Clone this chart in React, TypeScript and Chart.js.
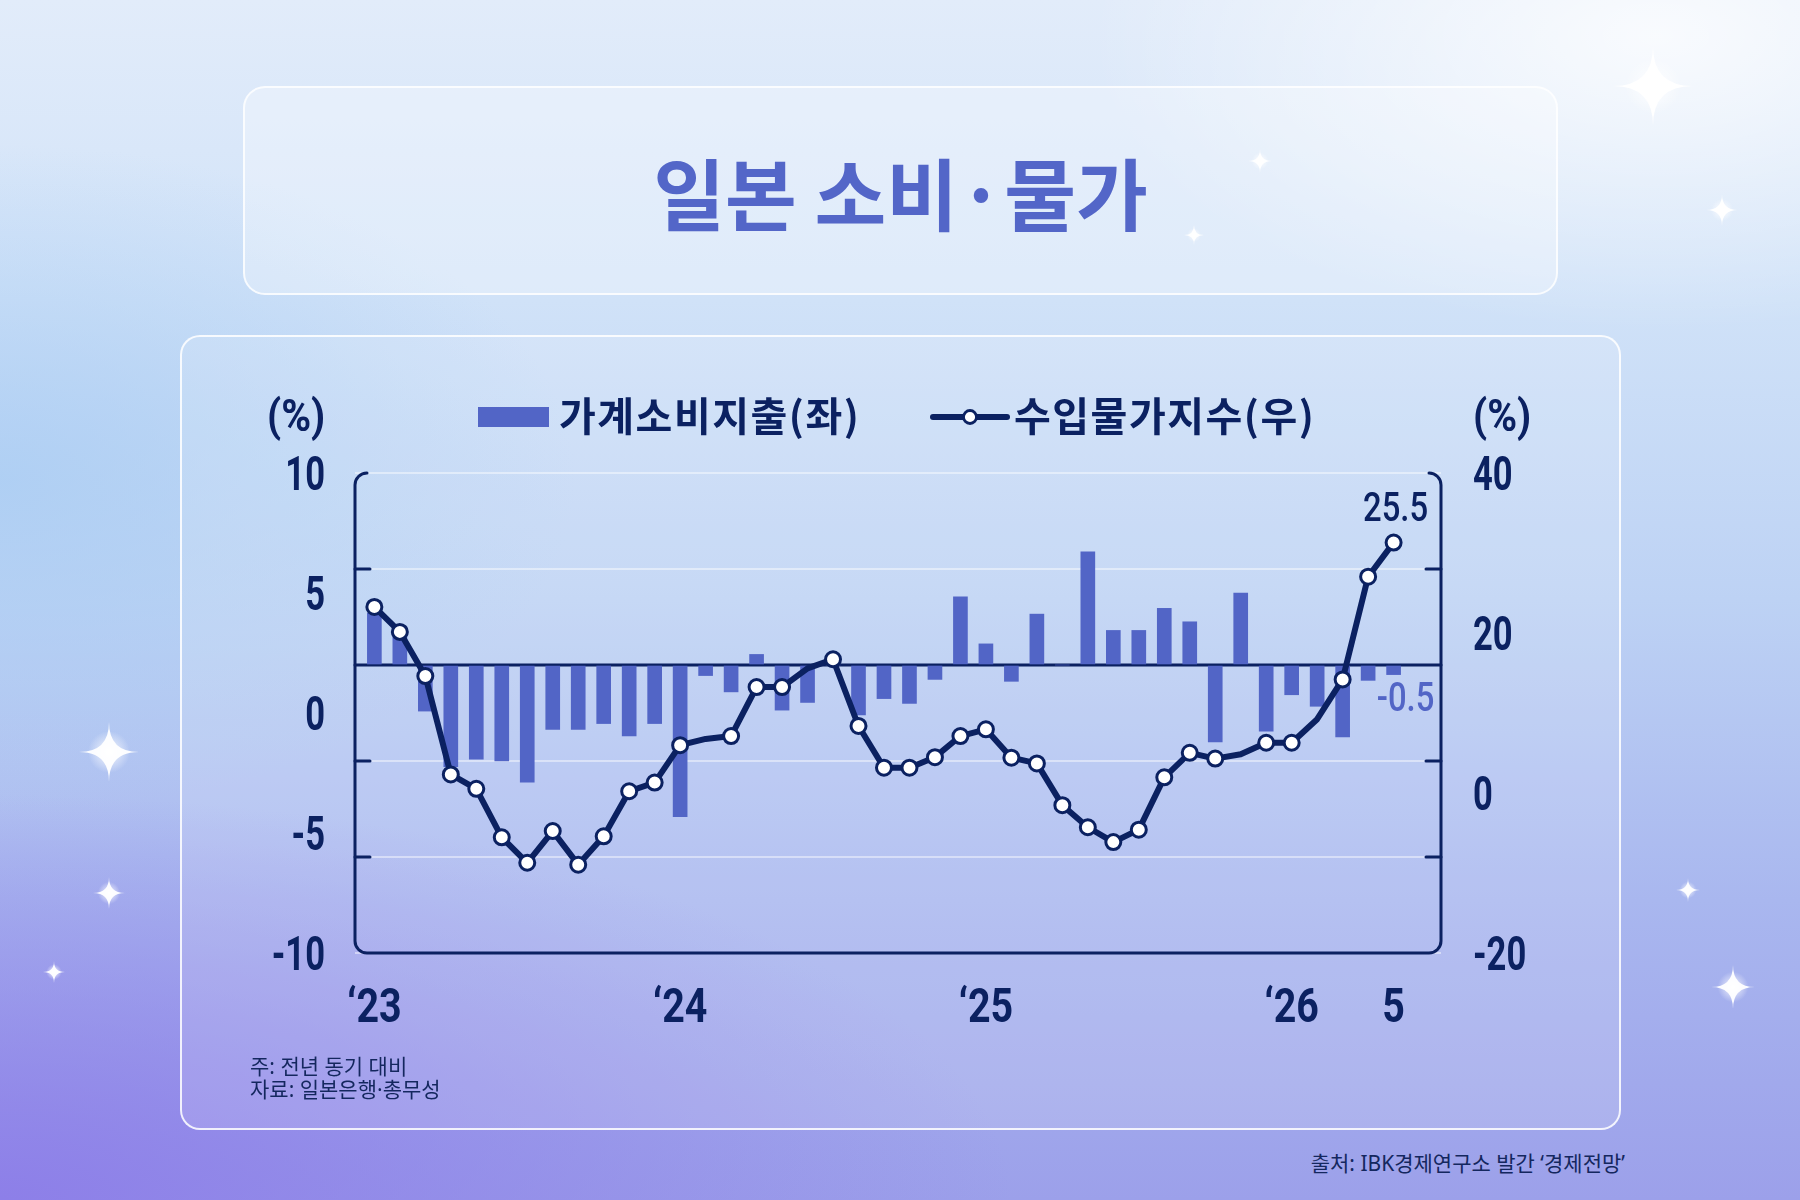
import { useEffect, useRef } from 'react';
import { Chart, registerables } from 'chart.js';

Chart.register(...registerables);

// 가계소비지출 (좌, %), 2023.1 ~ 2026.5
const spending = [
  2.7, 2.0, -2.4, -5.3, -4.9, -5.0, -6.1, -3.35, -3.35, -3.05, -3.7, -3.05,
  -7.9, -0.55, -1.4, 0.55, -2.35, -1.95, 0, -2.6, -1.75, -2.0, -0.75, 3.55,
  1.1, -0.85, 2.65, 0, 5.9, 1.8, 1.8, 2.95, 2.25, -4.0, 3.75, -3.45,
  -1.55, -2.15, -3.75, -0.8, -0.5,
];

// 수입물가지수 (우, %)
const importPrices = [
  12.1, 6.9, -2.3, -22.8, -25.8, -35.9, -41.2, -34.6, -41.6, -35.7, -26.3, -24.5,
  -16.7, -15.4, -14.8, -4.6, -4.6, -0.7, 1.2, -12.7, -21.4, -21.4, -19.2, -14.8,
  -13.4, -19.3, -20.5, -29.2, -33.8, -36.9, -34.3, -23.4, -18.3, -19.5, -18.6, -16.2,
  -16.2, -11.3, -3.0, 18.4, 25.5,
];

// x축 눈금 (월 인덱스 / 표시)
const tickIndex = [0, 12, 24, 36, 40];
const tickLabels = ['\u201823', '\u201824', '\u201825', '\u201826', '5'];

// 마커 없이 꺾이기만 하는 달
const plainPoints = [13, 17, 34, 37];

const NAVY = '#0b2161';
const BAR = '#5265c6';
const NUM_FONT = "Roboto, 'Noto Sans', sans-serif";
const KR_FONT = "'Noto Sans CJK KR', 'Noto Sans', sans-serif";
const NOTE_FONT = "'Noto Sans', 'Noto Sans CJK KR', sans-serif";
const HIDDEN = 'rgba(0,0,0,0)';

// 좁은 숫자 글꼴 흉내: 가로로 눌러서 그림
function narrowText(
  ctx: CanvasRenderingContext2D,
  text: string,
  x: number,
  y: number,
  align: CanvasTextAlign,
  sx: number,
) {
  ctx.save();
  ctx.translate(x, y);
  ctx.scale(sx, 1);
  ctx.textAlign = align;
  ctx.textBaseline = 'alphabetic';
  ctx.fillText(text, 0, 0);
  ctx.restore();
}

function ChartPanel() {
  const canvasRef = useRef<HTMLCanvasElement>(null);

  useEffect(() => {
    if (!canvasRef.current) return;

    const framePlugin = {
      id: 'frame',
      beforeDatasetsDraw(chart: Chart) {
        const { ctx, chartArea } = chart;
        const { left, right, top, bottom } = chartArea;
        const ys = chart.scales.y;
        const r = 12;
        ctx.save();
        ctx.strokeStyle = NAVY;
        ctx.lineWidth = 3;
        ctx.lineCap = 'round';
        ctx.lineJoin = 'round';
        ctx.beginPath();
        ctx.moveTo(left + r, top);
        ctx.arcTo(left, top, left, top + r, r);
        ctx.lineTo(left, bottom - r);
        ctx.arcTo(left, bottom, left + r, bottom, r);
        ctx.lineTo(right - r, bottom);
        ctx.arcTo(right, bottom, right, bottom - r, r);
        ctx.lineTo(right, top + r);
        ctx.arcTo(right, top, right - r, top, r);
        ctx.stroke();

        ys.ticks.forEach((t) => {
          if (t.value === ys.min || t.value === ys.max) return;
          const py = ys.getPixelForValue(t.value);
          ctx.beginPath();
          if (t.value === 0) {
            ctx.moveTo(left, py);
            ctx.lineTo(right, py);
          } else {
            ctx.moveTo(left, py);
            ctx.lineTo(left + 15, py);
            ctx.moveTo(right - 15, py);
            ctx.lineTo(right, py);
          }
          ctx.stroke();
        });
        ctx.restore();
      },
      afterDatasetsDraw(chart: Chart) {
        const { ctx, chartArea } = chart;
        const { x, y, y1, yl, yr } = chart.scales;

        ctx.save();
        ctx.fillStyle = NAVY;
        ctx.font = `bold 48px ${NUM_FONT}`;
        yl.ticks.forEach((t) => {
          narrowText(ctx, String(t.label), chartArea.left - 30, yl.getPixelForValue(t.value) + 17, 'right', 0.72);
        });
        yr.ticks.forEach((t) => {
          narrowText(ctx, String(t.label), chartArea.right + 32, yr.getPixelForValue(t.value) + 17, 'left', 0.72);
        });
        x.ticks.forEach((t) => {
          narrowText(ctx, String(t.label), x.getPixelForValue(t.value), chartArea.bottom + 69, 'center', 0.82);
        });

        const last = importPrices.length - 1;
        const px = x.getPixelForValue(last);
        ctx.font = `500 40px ${NUM_FONT}`;
        narrowText(ctx, importPrices[last].toFixed(1), px + 2, y1.getPixelForValue(importPrices[last]) - 22, 'center', 0.82);
        ctx.fillStyle = BAR;
        narrowText(ctx, spending[last].toFixed(1), px + 12, y.getPixelForValue(0) + 46, 'center', 0.82);
        ctx.restore();
      },
    };

    const chart = new Chart(canvasRef.current, {
      type: 'bar',
      data: {
        datasets: [
          {
            type: 'line',
            label: '수입물가지수(우)',
            data: importPrices.map((v, i) => ({ x: i, y: v })),
            yAxisID: 'y1',
            order: 0,
            borderColor: NAVY,
            borderWidth: 6,
            borderJoinStyle: 'round',
            tension: 0,
            pointRadius: importPrices.map((_, i) => (plainPoints.includes(i) ? 0 : 7.5)),
            pointBorderWidth: 3,
            pointBackgroundColor: '#ffffff',
            pointBorderColor: NAVY,
          },
          {
            type: 'bar',
            label: '가계소비지출(좌)',
            data: spending.map((v, i) => ({ x: i, y: v })),
            yAxisID: 'y',
            order: 1,
            backgroundColor: BAR,
            barThickness: 14,
          },
        ],
      },
      options: {
        animation: false,
        responsive: true,
        maintainAspectRatio: false,
        layout: { padding: { top: 138, bottom: 87, left: 0, right: 0 } },
        plugins: {
          legend: { display: false },
          tooltip: { enabled: false },
        },
        scales: {
          x: {
            type: 'linear',
            min: -0.76,
            max: 41.86,
            offset: false,
            grid: { display: false, drawTicks: false, offset: false },
            border: { display: false },
            afterBuildTicks: (s) => {
              s.ticks = tickIndex.map((v) => ({ value: v }));
            },
            afterFit: (s) => {
              s.height = 90;
            },
            ticks: {
              autoSkip: false,
              maxRotation: 0,
              color: HIDDEN,
              font: { family: NUM_FONT, size: 30 },
              callback: (v) => tickLabels[tickIndex.indexOf(Number(v))] ?? '',
            },
          },
          y: {
            position: 'left',
            min: -15,
            max: 10,
            ticks: { display: false, stepSize: 5 },
            grid: { color: 'rgba(255,255,255,0.45)', lineWidth: 2, drawTicks: false },
            border: { display: false },
            afterFit: (s) => {
              s.width = 0;
            },
          },
          y1: { position: 'right', display: false, min: -60, max: 40 },
          yl: {
            position: 'left',
            min: -10,
            max: 10,
            grid: { display: false, drawTicks: false },
            border: { display: false },
            afterFit: (s) => {
              s.width = 175;
            },
            ticks: { stepSize: 5, color: HIDDEN, font: { family: NUM_FONT, size: 30 } },
          },
          yr: {
            position: 'right',
            min: -20,
            max: 40,
            grid: { display: false, drawTicks: false },
            border: { display: false },
            afterFit: (s) => {
              s.width = 180;
            },
            ticks: { stepSize: 20, color: HIDDEN, font: { family: NUM_FONT, size: 30 } },
          },
        },
      },
      plugins: [framePlugin],
    });

    return () => {
      chart.destroy();
    };
  }, []);

  return (
    <div style={{ position: 'absolute', left: 180, top: 335, width: 1441, height: 795 }}>
      <canvas ref={canvasRef} />
    </div>
  );
}

const stars = [
  { x: 1653, y: 86, s: 40 },
  { x: 1260, y: 161, s: 12 },
  { x: 1194, y: 235, s: 10 },
  { x: 1722, y: 210, s: 16 },
  { x: 109, y: 752, s: 30 },
  { x: 109, y: 893, s: 16 },
  { x: 54, y: 972, s: 11 },
  { x: 1688, y: 890, s: 12 },
  { x: 1733, y: 987, s: 22 },
];

function Sparkles() {
  return (
    <svg width={1800} height={1200} style={{ position: 'absolute', left: 0, top: 0 }}>
      <defs>
        <radialGradient id="glow">
          <stop offset="0%" stopColor="#ffffff" stopOpacity="0.9" />
          <stop offset="100%" stopColor="#ffffff" stopOpacity="0" />
        </radialGradient>
      </defs>
      {stars.map((st, i) => (
        <g key={i} transform={`translate(${st.x},${st.y})`}>
          <circle r={st.s * 0.7} fill="url(#glow)" />
          <path
            d={`M0,${-st.s} Q0,0 ${st.s},0 Q0,0 0,${st.s} Q0,0 ${-st.s},0 Q0,0 0,${-st.s} Z`}
            fill="#ffffff"
            opacity={0.95}
          />
        </g>
      ))}
    </svg>
  );
}

const legendText: React.CSSProperties = {
  position: 'absolute',
  fontFamily: KR_FONT,
  fontWeight: 700,
  fontSize: 40,
  letterSpacing: 1.5,
  color: NAVY,
  lineHeight: '46px',
  whiteSpace: 'nowrap',
};

const unitText: React.CSSProperties = {
  position: 'absolute',
  fontFamily: NUM_FONT,
  fontWeight: 700,
  fontSize: 44,
  color: NAVY,
  lineHeight: '46px',
  transform: 'scaleX(0.92)',
  transformOrigin: 'left center',
  whiteSpace: 'nowrap',
};

export default function App() {
  return (
    <div
      style={{
        position: 'fixed',
        left: 0,
        top: 0,
        width: 1800,
        height: 1200,
        overflow: 'hidden',
        background:
          'radial-gradient(ellipse 45% 35% at 92% 3%, rgba(255,255,255,0.8), rgba(255,255,255,0) 70%),' +
          'radial-gradient(ellipse 75% 45% at 0% 100%, rgba(140,125,232,0.95), rgba(140,125,232,0) 75%),' +
          'radial-gradient(ellipse 40% 35% at 0% 40%, rgba(170,205,243,0.8), rgba(170,205,243,0) 80%),' +
          'linear-gradient(180deg, #e2ecfa 0%, #d0e2f8 25%, #bdd2f4 50%, #a9b7ef 75%, #9ca0ea 100%)',
      }}
    >
      <Sparkles />

      <div
        style={{
          position: 'absolute',
          left: 243,
          top: 86,
          width: 1315,
          height: 209,
          boxSizing: 'border-box',
          borderRadius: 22,
          background: 'rgba(255,255,255,0.3)',
          border: '2px solid rgba(255,255,255,0.8)',
          display: 'flex',
          alignItems: 'center',
          justifyContent: 'center',
          fontFamily: KR_FONT,
          fontWeight: 700,
          fontSize: 78,
          color: '#5366c8',
        }}
      >
        일본 소비·물가
      </div>

      <div
        style={{
          position: 'absolute',
          left: 180,
          top: 335,
          width: 1441,
          height: 795,
          boxSizing: 'border-box',
          borderRadius: 20,
          background: 'rgba(255,255,255,0.14)',
          border: '2px solid rgba(255,255,255,0.85)',
        }}
      />

      <ChartPanel />

      <div style={{ ...unitText, left: 267, top: 393 }}>(%)</div>
      <div style={{ ...unitText, left: 1473, top: 393 }}>(%)</div>

      <div style={{ position: 'absolute', left: 478, top: 407, width: 71, height: 20, background: BAR }} />
      <div style={{ ...legendText, left: 559, top: 391 }}>가계소비지출(좌)</div>

      <svg width={80} height={24} style={{ position: 'absolute', left: 930, top: 405 }}>
        <line x1={3} y1={12} x2={77} y2={12} stroke={NAVY} strokeWidth={6} strokeLinecap="round" />
        <circle cx={40} cy={12} r={6.5} fill="#ffffff" stroke={NAVY} strokeWidth={2.8} />
      </svg>
      <div style={{ ...legendText, left: 1014, top: 391 }}>수입물가지수(우)</div>

      <div
        style={{
          position: 'absolute',
          left: 250,
          top: 1055,
          fontFamily: NOTE_FONT,
          fontSize: 21,
          lineHeight: '23px',
          color: '#14275e',
        }}
      >
        <div>주: 전년 동기 대비</div>
        <div>자료: 일본은행·총무성</div>
      </div>

      <div
        style={{
          position: 'absolute',
          right: 1800 - 1625,
          top: 1150,
          fontFamily: NOTE_FONT,
          fontSize: 21,
          lineHeight: '26px',
          color: '#14275e',
          whiteSpace: 'nowrap',
        }}
      >
        출처: IBK경제연구소 발간 ‘경제전망’
      </div>
    </div>
  );
}
